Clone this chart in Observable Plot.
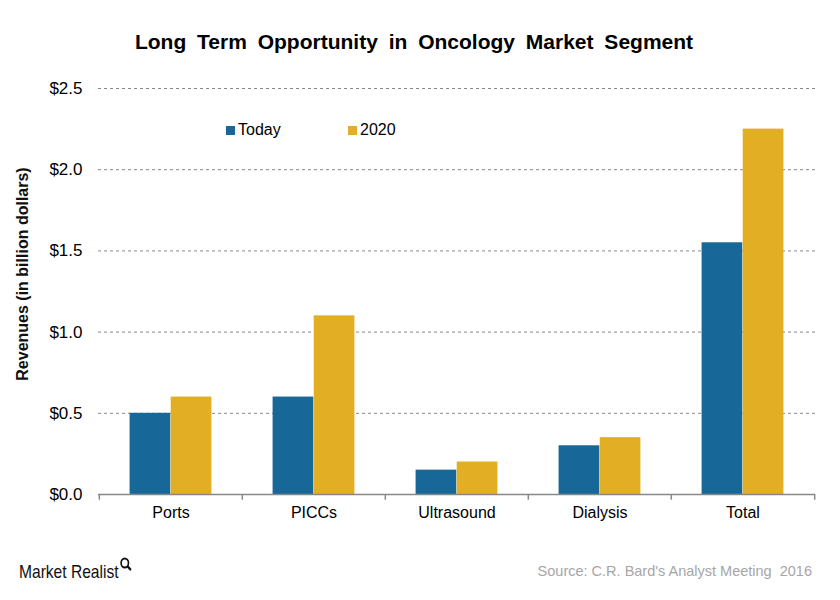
<!DOCTYPE html>
<html>
<head>
<meta charset="utf-8">
<script src="https://cdn.jsdelivr.net/npm/d3@7"></script>
<script src="https://cdn.jsdelivr.net/npm/@observablehq/plot@0.6"></script>
<style>
  html, body { margin: 0; padding: 0; background: #fff; }
  #wrap { position: relative; width: 840px; height: 600px; font-family: "Liberation Sans", Arial, sans-serif; overflow: hidden; }
  #chart { position: absolute; left: 0; top: 0; }
  .title { position: absolute; left: 0; width: 828px; top: 30px; text-align: center; font-family: "Liberation Sans", Arial, sans-serif; font-weight: bold; font-size: 21px; word-spacing: 5px; color: #000; }
  .ylabel { position: absolute; left: 23px; top: 274px; transform: translate(-50%, -50%) rotate(-90deg); white-space: nowrap; font-size: 16px; font-weight: bold; color: #111; }
  .legend { position: absolute; top: 121px; font-size: 16px; color: #000; display: flex; align-items: center; }
  .legend .sw { width: 9px; height: 9px; margin-right: 3px; }
  .brand { position: absolute; left: 19px; top: 561px; font-family: "Liberation Sans", Arial, sans-serif; font-size: 19px; color: #111; display: flex; align-items: flex-start; transform: scaleX(0.82); transform-origin: left top; }
  .source { position: absolute; right: 28px; top: 563px; font-size: 14.5px; color: #a6a6a6; }
</style>
</head>
<body>
<div id="wrap">
  <div id="chart"></div>
  <div class="title">Long Term Opportunity in Oncology Market Segment</div>
  <div class="ylabel">Revenues (in billion dollars)</div>
  <div class="legend" style="left:226px"><div class="sw" style="background:#176899"></div>Today</div>
  <div class="legend" style="left:348px"><div class="sw" style="background:#E2AE24"></div>2020</div>
  <div class="brand">Market Realist<svg width="16" height="14" viewBox="0 0 16 14" style="margin-left:1px;margin-top:-4px"><circle cx="7" cy="6" r="4.5" fill="none" stroke="#111" stroke-width="2"/><line x1="10" y1="9" x2="14.5" y2="13" stroke="#111" stroke-width="2.4"/></svg></div>
  <div class="source">Source: C.R. Bard's Analyst Meeting&nbsp; 2016</div>
</div>
<script>
const categories = ["Ports", "PICCs", "Ultrasound", "Dialysis", "Total"];
const today = [0.5, 0.6, 0.15, 0.3, 1.55];
const y2020 = [0.6, 1.1, 0.2, 0.35, 2.25];
const yTicks = [0, 0.5, 1.0, 1.5, 2.0, 2.5];
const seriesNames = ["Today", "2020"];
const colors = ["#176899", "#E2AE24"];

const W = 840, H = 540, mL = 98, mR = 25, mT = 88, mB = 46;
const bw = (W - mL - mR) / categories.length;   // band width
const barW = bw * 41 / 143;                      // each bar's width

const dToday = categories.map((c, i) => ({cat: c, value: today[i]}));
const d2020 = categories.map((c, i) => ({cat: c, value: y2020[i]}));

const plot = Plot.plot({
  width: W, height: H,
  marginLeft: mL, marginRight: mR, marginTop: mT, marginBottom: mB,
  style: {fontFamily: "'Liberation Sans', Arial, sans-serif", color: "#000", background: "transparent"},
  x: {domain: categories, padding: 0, label: null},
  y: {domain: [0, 2.5], label: null},
  marks: [
    Plot.gridY(yTicks.slice(1), {stroke: "#888", strokeOpacity: 1, strokeDasharray: "3,3", strokeWidth: 1}),
    Plot.barY(dToday, {x: "cat", y: "value", fill: colors[0], insetLeft: bw / 2 - barW, insetRight: bw / 2}),
    Plot.barY(d2020, {x: "cat", y: "value", fill: colors[1], insetLeft: bw / 2, insetRight: bw / 2 - barW}),
    Plot.ruleY([0], {stroke: "#888", strokeWidth: 1.5}),
    Plot.ruleX(categories, {x: d => d, dx: -bw / 2, y1: 0, y2: -0.035, stroke: "#888", strokeWidth: 1.5}),
    Plot.ruleX(categories.slice(-1), {x: d => d, dx: bw / 2, y1: 0, y2: -0.035, stroke: "#888", strokeWidth: 1.5}),
    Plot.axisY(yTicks, {tickSize: 0, tickPadding: 16, fontSize: 17, tickFormat: d => "$" + d.toFixed(1), label: null}),
    Plot.axisX({tickSize: 0, tickPadding: 12, fontSize: 16, label: null})
  ]
});
document.getElementById("chart").appendChild(plot);
</script>
</body>
</html>
